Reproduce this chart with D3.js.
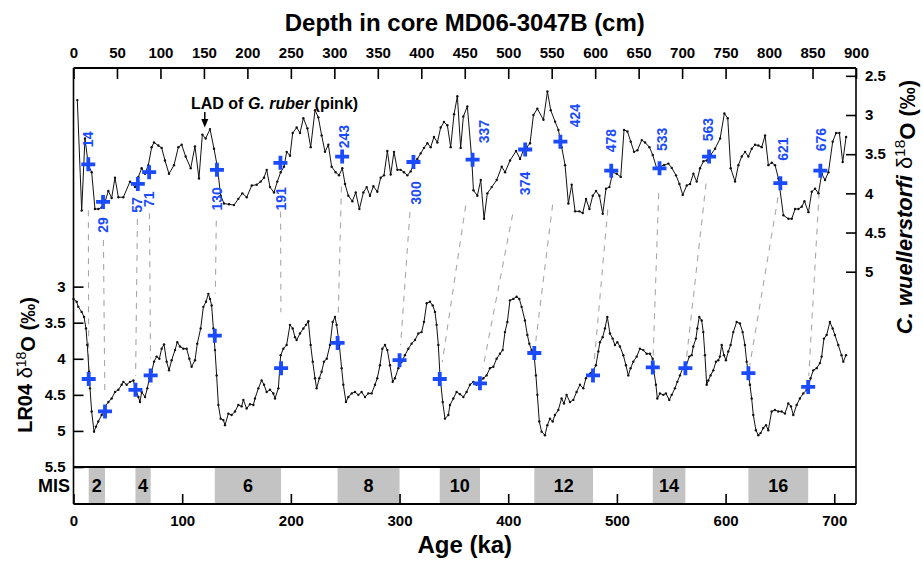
<!DOCTYPE html>
<html><head><meta charset="utf-8">
<script src="https://cdn.jsdelivr.net/npm/d3@7"></script>
<style>
body{margin:0;background:#fff}
svg{display:block}
text{font-family:"Liberation Sans",Arial,sans-serif;font-weight:bold;fill:#000}
</style>
</head><body>
<svg id="chart" width="923" height="561"></svg>
<script>
// ---------------- DATA ----------------
// C. wuellerstorfi d18O record: [depth (cm), d18O (permil)]
const cwRecord = [[4.4,2.81],[9.4,4.22],[13.2,3.30],[17.1,3.64],[20.9,3.73],[24.7,4.20],[28.6,4.20],[32.4,4.18],[36.2,4.11],[40.1,3.97],[43.9,4.06],[47.7,3.80],[51.6,4.05],[57.3,4.05],[65.0,3.85],[70.7,3.92],[74.6,3.79],[78.4,3.68],[82.2,3.75],[86.1,3.64],[89.9,3.41],[92.6,3.35],[97.6,3.39],[101.4,3.42],[105.2,3.58],[109.8,3.75],[115.6,3.64],[120.6,3.41],[124.4,3.38],[129.0,3.53],[134.8,3.68],[139.7,3.40],[144.3,3.81],[148.2,3.25],[152.0,3.30],[157.0,3.18],[161.6,3.43],[165.4,3.66],[169.3,4.03],[173.1,4.13],[178.9,4.14],[184.6,4.15],[189.6,4.07],[194.2,4.00],[199.2,4.05],[205.0,3.90],[210.7,3.89],[215.3,3.85],[219.1,3.80],[222.2,3.70],[226.0,3.92],[230.6,3.99],[234.4,3.85],[238.3,3.73],[242.1,3.66],[245.2,3.47],[249.0,3.52],[252.1,3.23],[256.7,3.16],[260.5,3.23],[264.4,3.04],[269.0,3.17],[272.8,3.41],[277.8,2.94],[281.6,3.03],[285.4,3.26],[289.3,3.47],[293.1,3.38],[296.9,3.66],[301.5,3.73],[305.4,3.77],[309.2,3.68],[312.3,3.88],[316.1,4.03],[320.7,4.10],[324.6,3.99],[328.8,4.20],[333.4,3.99],[337.2,3.92],[341.0,4.03],[344.9,3.91],[349.5,3.98],[353.3,3.80],[357.1,3.77],[361.0,3.46],[364.8,3.76],[368.6,3.47],[372.5,3.70],[376.3,3.70],[380.1,3.73],[384.0,3.77],[387.8,3.72],[391.6,3.62],[395.5,3.56],[399.3,3.49],[403.1,3.42],[407.0,3.36],[410.8,3.41],[414.6,3.28],[418.5,3.35],[422.3,3.16],[426.1,3.09],[430.0,3.13],[433.8,3.41],[437.7,2.99],[441.5,2.76],[445.3,3.42],[448.4,3.02],[453.0,2.89],[458.0,3.555],[460.0,3.96],[464.5,4.03],[468.4,3.83],[472.2,4.325],[476.0,4.00],[481.0,3.92],[486.8,3.83],[492.5,3.66],[496.4,3.73],[502.1,3.58],[509.0,3.46],[513.6,3.56],[517.4,3.45],[521.3,3.41],[525.1,3.36],[529.0,3.00],[533.5,2.92],[540.5,3.06],[545.1,2.70],[548.9,2.94],[553.9,3.085],[557.7,3.19],[561.5,3.41],[565.4,3.64],[569.2,4.13],[573.0,3.89],[576.9,4.23],[581.9,4.23],[585.7,4.25],[589.5,4.07],[593.4,4.20],[597.2,4.03],[601.0,3.97],[604.9,4.03],[608.7,4.26],[612.5,3.94],[616.4,3.92],[620.2,3.73],[624.8,3.75],[629.4,3.79],[633.2,3.19],[637.1,3.21],[640.9,3.34],[644.7,3.47],[648.6,3.45],[653.6,3.32],[657.4,3.35],[662.4,3.41],[666.2,3.51],[670.8,3.68],[674.6,3.66],[679.2,3.64],[684.2,3.62],[688.1,3.675],[693.0,3.77],[696.9,3.88],[700.7,4.02],[705.3,3.90],[709.1,3.88],[713.0,3.75],[716.8,3.85],[720.6,3.68],[724.5,3.59],[728.3,3.58],[732.9,3.51],[737.9,3.43],[743.7,3.30],[748.6,2.98],[752.5,3.04],[755.9,3.68],[760.9,3.85],[764.7,3.64],[768.6,3.53],[772.4,3.47],[776.2,3.53],[780.1,3.43],[783.9,3.38],[787.7,3.39],[791.6,3.41],[795.4,3.26],[799.2,3.64],[803.1,3.61],[806.9,3.64],[810.8,3.81],[816.5,4.28],[822.3,4.325],[826.1,4.325],[829.9,4.20],[833.8,4.20],[837.6,4.17],[840.7,4.10],[845.3,4.24],[849.1,3.98],[852.9,3.94],[856.8,4.00],[860.6,3.75],[864.4,3.83],[868.3,3.73],[873.2,3.34],[877.1,3.23],[880.9,3.23],[884.7,3.60],[888.6,3.28]];

// LR04 benthic stack: [age (ka), d18O (permil)]
const lr04Record = [[0,3.17],[2.9,3.21],[4.4,3.28],[7.5,3.35],[9.7,3.42],[11.5,3.58],[12.7,3.81],[14.3,4.18],[15.2,4.41],[16.7,4.73],[18.9,5.01],[20.7,4.94],[22.8,4.87],[25.9,4.78],[29.0,4.66],[32.1,4.60],[35.1,4.55],[38.2,4.46],[41.3,4.43],[44.3,4.36],[45.9,4.32],[48.9,4.36],[52.0,4.32],[55.1,4.30],[56.6,4.39],[59.7,4.53],[61.2,4.60],[62.7,4.46],[65.8,4.53],[67.9,4.41],[69.8,4.27],[71.9,4.18],[74.1,4.04],[76.5,3.97],[79.0,4.00],[81.1,3.86],[83.3,3.80],[85.7,4.04],[87.9,4.16],[90.3,4.02],[93.4,3.88],[95.5,3.77],[98.0,3.83],[101.1,3.86],[104.1,3.86],[106.6,4.00],[108.7,4.11],[111.8,4.02],[113.9,3.79],[117.0,3.58],[119.5,3.28],[121.9,3.21],[124.1,3.10],[125.6,3.17],[127.1,3.26],[128.7,3.58],[130.2,3.88],[131.7,4.23],[133.3,4.64],[135.4,4.83],[137.9,4.85],[139.4,4.92],[142.5,4.76],[145.5,4.78],[148.6,4.73],[151.7,4.64],[154.7,4.66],[156.3,4.57],[159.3,4.69],[162.4,4.63],[165.5,4.64],[167.0,4.55],[170.1,4.41],[173.1,4.30],[175.3,4.36],[177.7,4.46],[180.8,4.43],[183.9,4.48],[185.4,4.55],[188.5,4.41],[190.6,3.95],[193.1,3.86],[196.1,3.81],[199.2,3.53],[201.7,3.58],[203.8,3.70],[205.3,3.74],[208.4,3.65],[211.5,3.58],[213.9,3.53],[216.1,3.48],[218.2,3.81],[220.1,4.04],[222.2,4.27],[223.7,4.41],[226.2,4.27],[228.3,4.18],[230.5,4.04],[233.0,4.00],[236.0,3.81],[238.5,3.49],[240.6,3.42],[242.1,3.53],[244.6,3.81],[246.7,4.13],[248.3,4.36],[250.7,4.60],[252.9,4.53],[256.0,4.48],[259.0,4.46],[262.1,4.50],[265.1,4.46],[268.2,4.53],[271.3,4.48],[274.3,4.48],[277.4,4.36],[279.5,4.27],[282.0,4.09],[284.2,3.86],[286.6,3.81],[288.8,3.88],[291.2,4.09],[293.7,4.32],[295.8,4.27],[298.9,4.13],[302.0,4.04],[305.0,3.95],[308.1,3.86],[311.1,3.79],[314.2,3.74],[317.3,3.65],[320.3,3.63],[322.5,3.49],[325.0,3.23],[328.0,3.21],[330.5,3.26],[332.6,3.35],[334.1,3.53],[335.7,3.81],[337.2,4.23],[339.7,4.60],[341.8,4.83],[344.9,4.78],[346.4,4.64],[349.5,4.55],[352.5,4.46],[355.6,4.49],[358.7,4.53],[361.7,4.46],[364.8,4.36],[367.9,4.32],[370.9,4.36],[374.0,4.32],[377.1,4.27],[380.1,4.23],[383.2,4.13],[386.3,4.11],[389.3,4.00],[392.4,3.93],[394.9,3.88],[397.0,3.63],[399.2,3.49],[401.6,3.19],[404.7,3.17],[407.7,3.14],[410.2,3.17],[412.3,3.28],[415.4,3.47],[417.6,3.67],[419.4,3.79],[421.5,3.88],[423.7,3.93],[425.5,4.23],[426.8,4.50],[428.6,4.87],[430.7,5.01],[433.8,5.06],[436.0,4.92],[438.4,4.83],[440.9,4.87],[443.0,4.78],[446.1,4.71],[449.1,4.55],[451.3,4.62],[453.7,4.50],[456.8,4.60],[459.9,4.57],[462.9,4.46],[466.0,4.36],[469.1,4.41],[471.5,4.27],[473.7,4.23],[475.8,4.20],[478.3,4.16],[480.7,4.09],[482.9,3.90],[484.4,3.77],[486.9,3.70],[489.0,3.58],[491.2,3.42],[493.6,3.65],[496.1,3.72],[498.2,3.81],[500.4,3.77],[502.8,3.83],[505.9,3.95],[508.3,4.09],[510.5,4.23],[512.6,4.13],[515.1,4.04],[518.2,3.97],[521.2,3.86],[524.3,3.88],[527.4,3.93],[530.4,3.93],[532.9,4.00],[534.1,4.18],[535.9,4.36],[537.2,4.55],[539.6,4.48],[542.7,4.50],[545.1,4.48],[548.2,4.57],[550.4,4.50],[553.4,4.41],[555.6,4.32],[558.0,4.23],[560.5,4.13],[563.5,4.11],[566.6,3.97],[568.8,3.95],[570.3,3.83],[572.7,3.72],[574.0,3.58],[575.8,3.42],[578.0,3.47],[579.5,3.63],[581.0,3.95],[582.6,4.36],[584.1,4.30],[586.2,4.23],[588.7,4.16],[591.1,4.04],[593.3,4.02],[594.8,3.97],[596.4,3.81],[598.5,3.95],[600.3,4.02],[602.5,3.90],[604.6,3.81],[607.1,3.63],[610.2,3.49],[613.2,3.51],[615.7,3.63],[617.8,3.81],[619.4,4.04],[621.2,4.23],[622.4,4.36],[624.0,4.55],[625.5,4.78],[627.9,4.99],[630.1,5.06],[632.2,5.03],[634.7,4.96],[637.2,4.92],[639.3,4.99],[642.4,4.73],[645.4,4.71],[648.5,4.73],[651.6,4.73],[654.6,4.76],[657.7,4.62],[660.2,4.66],[662.3,4.78],[665.4,4.64],[668.4,4.55],[671.5,4.48],[674.6,4.43],[676.1,4.39],[678.2,4.27],[680.7,4.16],[683.8,4.13],[686.8,4.06],[688.4,3.97],[690.5,3.72],[693.0,3.67],[696.0,3.49],[698.5,3.58],[700.6,3.67],[703.7,3.81],[706.7,3.95],[708.3,4.04],[710.8,3.95]];

// Tie points
const tieAge   = [14,29,57,71,130,191,243,300,337,374,424,478,533,563,621,676];
const tieDepth = [17,34,74,87,165,238,309,391,459,519.5,560,618.5,674,731,813,859];
const tieCw    = [3.63,4.11,3.88,3.73,3.70,3.61,3.53,3.60,3.57,3.44,3.34,3.71,3.68,3.53,3.87,3.71];
const tieLr    = [4.28,4.73,4.43,4.23,3.68,4.13,3.78,4.02,4.28,4.34,3.92,4.23,4.12,4.13,4.20,4.39];

// Marine isotope stages (glacial, shaded)
const misLabels = ["2","4","6","8","10","12","14","16"];
const misStart  = [14,57,130,243,337,424,533,621];
const misEnd    = [29,71,191,300,374,478,563,676];

// Axis ticks
const depthTicks = [0,50,100,150,200,250,300,350,400,450,500,550,600,650,700,750,800,850,900];
const ageTicks   = [0,100,200,300,400,500,600,700];
const cwTicks    = [2.5,3,3.5,4,4.5,5];
const lrTicks    = [3,3.5,4,4.5,5,5.5];
const ladDepth = 151;

// ---------------- LAYOUT (pixels, not data) ----------------
const L = 73.5, R = 856, TOP = 68, SEP = 467, BOT = 504;
// label offsets relative to upper cross [dx, dy]
const tieLabelOffset = [[0,-25],[0,23],[-1,21],[0,27],[0,29],[1,36],[2,-20],[3,31],[11,-28],[0,34],[15,-26],[0,-30],[2,-29],[-1,-27],[3,-34],[1,-31]];
const dashTopGap    = [46,38,35,41,51,49,30,50,46,65,63,39,25,27,14,22];
const dashBottomGap = [5,16,14,17,42,56,24,15,17,15,12,10,12,6,8,11];
const BLUE = "#1a4bff";

const svg = d3.select("#chart");

const xDepth = d3.scaleLinear().domain([0,900]).range([L,R]);
const xAge   = d3.scaleLinear().domain([0,720]).range([L,R]);
const yCw    = d3.scaleLinear().domain([2.4,5]).range([TOP,271.7]);
const yLr    = d3.scaleLinear().domain([2.75,5.5]).range([268.6,SEP]);

// MIS shading
svg.append("g").selectAll("rect").data(misLabels).join("rect")
  .attr("x",(d,i)=>xAge(misStart[i])).attr("width",(d,i)=>xAge(misEnd[i])-xAge(misStart[i]))
  .attr("y",SEP).attr("height",BOT-SEP).attr("fill","#c3c3c3");
svg.append("g").selectAll("text").data(misLabels).join("text")
  .attr("x",(d,i)=>(xAge(misStart[i])+xAge(misEnd[i]))/2).attr("y",492)
  .attr("text-anchor","middle").style("font-size","18px").text(d=>d);
svg.append("text").attr("x",70).attr("y",492).attr("text-anchor","end").style("font-size","18px").text("MIS");

// dashed tie lines
const tieIdx = d3.range(tieAge.length);
svg.append("g").selectAll("line").data(tieIdx).join("line")
  .each(function(i){
    const x1=xDepth(tieDepth[i]), y1=yCw(tieCw[i]);
    const x2=xAge(tieAge[i]), y2=yLr(tieLr[i]);
    const ys=y1+dashTopGap[i], ye=y2-dashBottomGap[i];
    const fx=y=>x1+(x2-x1)*(y-y1)/(y2-y1);
    d3.select(this).attr("x1",fx(ys)).attr("y1",ys).attr("x2",fx(ye)).attr("y2",ye);
  })
  .attr("stroke","#a8a8a8").attr("stroke-width",1.1).attr("stroke-dasharray","6,6");

// curves
function drawCurve(data, xs, ys){
  const g = svg.append("g");
  g.append("path").datum(data)
    .attr("d", d3.line().x(d=>xs(d[0])).y(d=>ys(d[1])))
    .attr("fill","none").attr("stroke","#111").attr("stroke-width",1);
  g.selectAll("circle").data(data).join("circle")
    .attr("cx",d=>xs(d[0])).attr("cy",d=>ys(d[1])).attr("r",1.2).attr("fill","#111");
}
drawCurve(cwRecord, xDepth, yCw);
drawCurve(lr04Record, xAge, yLr);

// crosses
const crossPath = "M-7,0H7M0,-7V7";
svg.append("g").selectAll("path").data(tieIdx).join("path")
  .attr("d",crossPath).attr("transform",i=>`translate(${xDepth(tieDepth[i])},${yCw(tieCw[i])})`)
  .attr("stroke",BLUE).attr("stroke-width",3.8).attr("fill","none");
svg.append("g").selectAll("path").data(tieIdx).join("path")
  .attr("d",crossPath).attr("transform",i=>`translate(${xAge(tieAge[i])},${yLr(tieLr[i])})`)
  .attr("stroke",BLUE).attr("stroke-width",3.8).attr("fill","none");

// tie labels
svg.append("g").selectAll("text").data(tieIdx).join("text")
  .attr("transform",i=>`translate(${xDepth(tieDepth[i])+tieLabelOffset[i][0]},${yCw(tieCw[i])+tieLabelOffset[i][1]}) rotate(-90)`)
  .attr("text-anchor","middle").attr("dy","0.36em")
  .style("font-size","14px").style("fill",BLUE).text(i=>tieAge[i]);

// LAD annotation
const lad = svg.append("text").attr("x",191).attr("y",109).style("font-size","16px");
lad.append("tspan").text("LAD of ");
lad.append("tspan").style("font-style","italic").text("G. ruber");
lad.append("tspan").text(" (pink)");
const ax = xDepth(ladDepth);
svg.append("line").attr("x1",ax).attr("x2",ax).attr("y1",112).attr("y2",121).attr("stroke","#000").attr("stroke-width",1.5);
svg.append("path").attr("d",`M${ax-3.5},119L${ax+3.5},119L${ax},127.5Z`).attr("fill","#000");

// axes
function styleAxis(g){
  g.select(".domain").remove();
  g.selectAll(".tick line").attr("stroke","#000").attr("stroke-width",1.6);
  g.selectAll(".tick text").style("font-size","15px").style("font-family",'"Liberation Sans",Arial,sans-serif').style("font-weight","bold").attr("fill","#000");
}
svg.append("g").attr("transform",`translate(0,${TOP})`)
  .call(d3.axisTop(xDepth).tickValues(depthTicks).tickSize(-11).tickPadding(10).tickFormat(d=>d)).call(styleAxis);
svg.append("g").attr("transform",`translate(0,${BOT})`)
  .call(d3.axisBottom(xAge).tickValues(ageTicks).tickSize(-10).tickPadding(11).tickFormat(d=>d)).call(styleAxis);
svg.append("g").attr("transform",`translate(${L},0)`)
  .call(d3.axisLeft(yLr).tickValues(lrTicks).tickSize(-10).tickPadding(8).tickFormat(d=>String(d))).call(styleAxis);
svg.append("g").attr("transform",`translate(${R},0)`)
  .call(d3.axisRight(yCw).tickValues(cwTicks).tickSize(-10).tickPadding(9).tickFormat(d=>String(d))).call(styleAxis);

// frame
const frame = svg.append("g").attr("stroke","#000");
frame.append("line").attr("x1",L).attr("x2",R).attr("y1",TOP).attr("y2",TOP).attr("stroke-width",2);
frame.append("line").attr("x1",L).attr("x2",R).attr("y1",SEP).attr("y2",SEP).attr("stroke-width",2);
frame.append("line").attr("x1",L).attr("x2",R).attr("y1",BOT).attr("y2",BOT).attr("stroke-width",2);
frame.append("line").attr("x1",L).attr("x2",L).attr("y1",TOP).attr("y2",BOT).attr("stroke-width",1.6);
frame.append("line").attr("x1",R).attr("x2",R).attr("y1",TOP).attr("y2",BOT).attr("stroke-width",1.6);

// titles
svg.append("text").attr("x",(L+R)/2).attr("y",31).attr("text-anchor","middle").style("font-size","24px").text("Depth in core MD06-3047B (cm)");
svg.append("text").attr("x",(L+R)/2).attr("y",553).attr("text-anchor","middle").style("font-size","24px").text("Age (ka)");

function isoTitle(t, prefix, italic){
  if(italic){ t.append("tspan").style("font-style","italic").text(prefix); }
  else { t.append("tspan").text(prefix); }
  t.append("tspan").style("font-weight","normal").text(" δ");
  t.append("tspan").attr("dy","-0.45em").style("font-size","70%").style("font-weight","normal").text("18");
  t.append("tspan").attr("dy","0.45em").text("O (‰)");
}
const lt = svg.append("text").attr("transform","translate(32,365) rotate(-90)").attr("text-anchor","middle").style("font-size","20px");
isoTitle(lt,"LR04",false);
const rt = svg.append("text").attr("transform","translate(912,207) rotate(-90)").attr("text-anchor","middle").style("font-size","22px");
isoTitle(rt,"C. wuellerstorfi",true);
</script>
</body></html>
